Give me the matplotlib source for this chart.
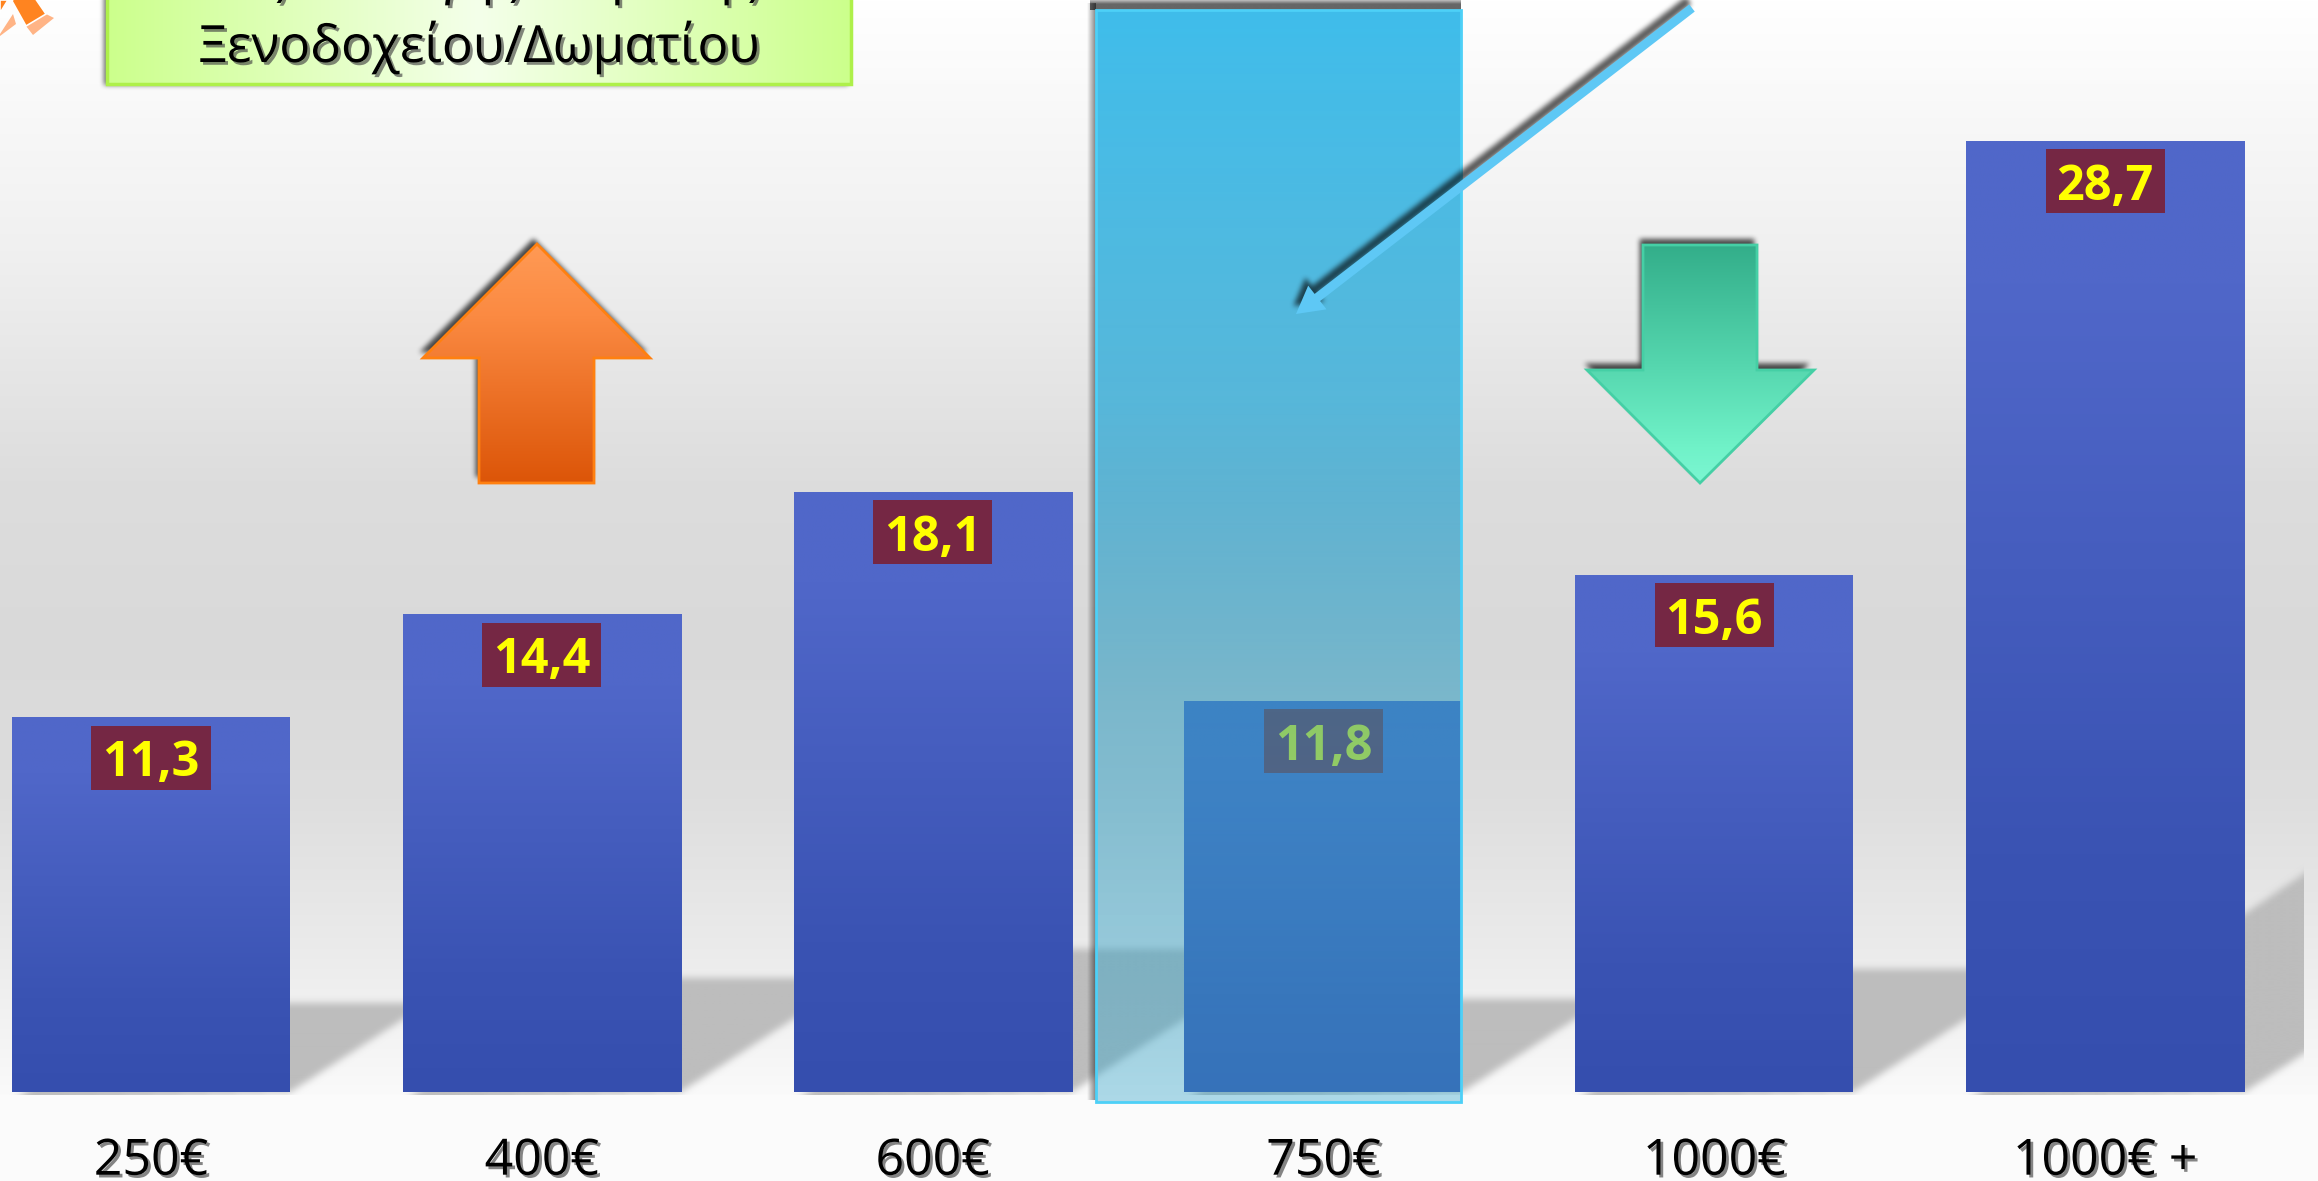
import numpy as np
import matplotlib
matplotlib.use("Agg")
import matplotlib.pyplot as plt
from matplotlib.colors import to_rgb
from matplotlib.patches import Polygon, Rectangle, FancyArrow
from matplotlib.path import Path
import matplotlib.patheffects as pe

# Data
categories = ["250€", "400€", "600€", "750€", "1000€", "1000€ +"]
values = [11.3, 14.4, 18.1, 11.8, 15.6, 28.7]
value_labels = ["11,3", "14,4", "18,1", "11,8", "15,6", "28,7"]
title_lines = ["Κόστος Επιλογής Διαμονής και", "Ξενοδοχείου/Δωματίου"]

W, H = 2318, 1181
BASE_PX = 1092
PX_PER_UNIT = 33.13
STEP_PX = 390.8
FIRST_PX = 151
FONT = "Open Sans"


def gradient(ax, extent, stops, horizontal=False, clip=None, zorder=1):
    # stops: (pos, colour) or (pos, colour, alpha), pos goes from top to bottom / left to right
    pos = [s[0] for s in stops]
    rgba = np.array([to_rgb(s[1]) + (s[2] if len(s) > 2 else 1.0,) for s in stops])
    t = np.linspace(0, 1, 512)
    img = np.stack([np.interp(t, pos, rgba[:, i]) for i in range(4)], axis=-1)
    img = img[np.newaxis, :, :] if horizontal else img[:, np.newaxis, :]
    im = ax.imshow(img, extent=extent, aspect="auto", origin="upper",
                   interpolation="bilinear", zorder=zorder)
    if clip is not None:
        im.set_clip_path(clip)
    return im


def blurred(ax, pts, cell=(1.0, 1.0), radius=3, colour="black", alpha=0.6, zorder=3, clip=None):
    # polygon mask smoothed with three box passes, cell is the size of one pixel in ax units
    pts = np.asarray(pts, dtype=float)
    pad = radius * 4
    xs = np.arange(pts[:, 0].min() - pad * cell[0], pts[:, 0].max() + pad * cell[0], cell[0])
    ys = np.arange(pts[:, 1].min() - pad * cell[1], pts[:, 1].max() + pad * cell[1], cell[1])
    X, Y = np.meshgrid(xs, ys)
    mask = Path(pts).contains_points(np.c_[X.ravel(), Y.ravel()]).reshape(X.shape).astype(float)
    kernel = np.ones(2 * radius + 1) / (2 * radius + 1)
    for _ in range(3):
        mask = np.apply_along_axis(lambda r: np.convolve(r, kernel, mode="same"), 0, mask)
        mask = np.apply_along_axis(lambda r: np.convolve(r, kernel, mode="same"), 1, mask)
    img = np.zeros(mask.shape + (4,))
    img[..., :3] = to_rgb(colour)
    img[..., 3] = mask * alpha
    im = ax.imshow(img, extent=(xs[0], xs[-1], ys[0], ys[-1]), origin="lower", aspect="auto",
                   interpolation="bilinear", zorder=zorder)
    if clip is not None:
        im.set_clip_path(clip)
    return im


def shifted(pts, dx=-2, dy=-7):
    return [(x + dx, y + dy) for x, y in pts]


def text_shadow(off=2.0, alpha=0.65):
    return [pe.withSimplePatchShadow(offset=(off, -off), shadow_rgbFace="#444444", alpha=alpha)]


fig = plt.figure(figsize=(W / 100, H / 100), dpi=100)

# background, in pixel coordinates
bg = fig.add_axes([0, 0, 1, 1], zorder=0)
bg.axis("off")
gradient(bg, (0, W, H, 0), [(0, "#ffffff"), (100 / H, "#f9f9f9"), (250 / H, "#f0f0f0"),
                            (480 / H, "#dddddd"), (650 / H, "#d9d9d9"), (800 / H, "#dedede"),
                            (950 / H, "#ebebeb"), (1050 / H, "#f5f5f5"), (1095 / H, "#fafafa"),
                            (1, "#ffffff")])
bg.set_xlim(0, W)
bg.set_ylim(H, 0)

# bars, in data coordinates
ax = fig.add_axes([0, 0, 1, 1], zorder=1)
ax.patch.set_alpha(0)
ax.axis("off")
xlim = (-FIRST_PX / STEP_PX, (W - FIRST_PX) / STEP_PX)
ylim = ((BASE_PX - H) / PX_PER_UNIT, BASE_PX / PX_PER_UNIT)
ax.set_xlim(xlim)
ax.set_ylim(ylim)
x = np.arange(len(categories))
bar_w = 278 / STEP_PX
cell = (1 / STEP_PX, 1 / PX_PER_UNIT)

# skewed floor shadows
clip_box = Rectangle((xlim[0], ylim[0]), 2303 / STEP_PX, ylim[1] - ylim[0], transform=ax.transData)
for xi, v in zip(x, values):
    up = 0.24 * v
    side = 0.369 * v * PX_PER_UNIT / STEP_PX
    pts = [(xi - bar_w / 2, -0.3), (xi - bar_w / 2 + side, up), (xi + bar_w / 2 + side, up), (xi + bar_w / 2, -0.0)]
    blurred(ax, pts, cell=cell, radius=3, colour="#bdbdbd", alpha=1.0, zorder=1, clip=clip_box)
ax.add_patch(Rectangle((xlim[0], ylim[0]), xlim[1] - xlim[0], -ylim[0] - 3 / PX_PER_UNIT,
                       facecolor="#fbfbfb", edgecolor="none", zorder=1.5))

bars = ax.bar(x, values, width=bar_w, color="none", zorder=2)
for rect, v in zip(bars, values):
    x0 = rect.get_x()
    gradient(ax, (x0, x0 + bar_w, 0, v),
             [(0, "#5068c9"), (0.15, "#5067c9"), (0.75, "#3a53b3"), (1, "#354eae")], zorder=2)

box_w = 119 / STEP_PX
box_h = 64 / PX_PER_UNIT
gap = 8 / PX_PER_UNIT
for xi, v, lab in zip(x, values, value_labels):
    ax.add_patch(Rectangle((xi - box_w / 2, v - gap - box_h), box_w, box_h,
                           facecolor="#752744", edgecolor="none", zorder=3))
    ax.text(xi, v - gap - box_h / 2, lab, ha="center", va="center_baseline", color="#ffff00",
            fontsize=35, fontweight="bold", family=FONT, zorder=4)

for xi, cat in zip(x, categories):
    ax.text(xi, -1.93, cat, ha="center", va="center_baseline", color="black", fontsize=36,
            family=FONT, zorder=4, path_effects=text_shadow())
ax.set_xlim(xlim)
ax.set_ylim(ylim)

# annotation shapes on top, in pixel coordinates
top = fig.add_axes([0, 0, 1, 1], zorder=2)
top.patch.set_alpha(0)
top.axis("off")
top.set_xlim(0, W)
top.set_ylim(H, 0)

# highlight column
gradient(top, (1087, 1096, 1100, 3), [(0, "#000000", 0.0), (1, "#000000", 0.5)], horizontal=True, zorder=1)
gradient(top, (1090, 1461, 10, 0), [(0, "#000000", 0.25), (0.4, "#000000", 0.6), (1, "#000000", 0.6)], zorder=1)
gradient(top, (1096, 1461, 1102, 10),
         [(0, "#3fbdeb", 1.0), (0.36, "#3aaed8", 0.83), (0.45, "#34a5cf", 0.74),
          (0.63, "#2c9bc0", 0.55), (1, "#3aa8cc", 0.41)], zorder=2)
top.add_patch(Rectangle((1096, 10), 365, 1092, facecolor="none", edgecolor="#4dd0f7", lw=2, zorder=2.5))

# long arrow
arrow_x, arrow_y, arrow_dx, arrow_dy = 1692, 8, -396, 306
long_arrow = FancyArrow(arrow_x, arrow_y, arrow_dx, arrow_dy, width=9, head_width=30, head_length=27,
                        length_includes_head=True, facecolor="#5ec8f5", edgecolor="none", zorder=3.2)
blurred(top, shifted(long_arrow.get_xy()[:-1], -3, -7), radius=2, alpha=0.65, zorder=3)
top.add_patch(long_arrow)

# up and down arrows
up_pts = [(537, 244), (650, 358), (594, 358), (594, 483), (479, 483), (479, 358), (423, 358)]
blurred(top, shifted(up_pts, -3, -6), radius=2, alpha=0.7, zorder=3)
up_poly = Polygon(up_pts, closed=True, facecolor="none", edgecolor="#ff8010", lw=2, zorder=4)
top.add_patch(up_poly)
gradient(top, (423, 650, 483, 244), [(0, "#ff9a55"), (0.3, "#fb8a42"), (1, "#dc5508")], clip=up_poly, zorder=3.5)

down_pts = [(1643, 245), (1757, 245), (1757, 370), (1814, 370), (1700, 483), (1587, 370), (1643, 370)]
blurred(top, shifted(down_pts, -3, -7), radius=2, alpha=0.7, zorder=3)
down_poly = Polygon(down_pts, closed=True, facecolor="none", edgecolor="#45cfa5", lw=2, zorder=4)
top.add_patch(down_poly)
gradient(top, (1587, 1814, 483, 245), [(0, "#33ae8a"), (0.5, "#55d6ae"), (0.85, "#70f2c8"), (1, "#7cf6d2")],
         clip=down_poly, zorder=3.5)

# title box, runs off the top of the picture
box_pts = [(107, -10), (851, -10), (851, 84), (107, 84)]
blurred(top, shifted(box_pts, -3, 1), radius=2, alpha=0.6, zorder=3)
box_poly = Polygon(box_pts, closed=True, facecolor="none", edgecolor="#aef04a", lw=2.5, zorder=4)
top.add_patch(box_poly)
gradient(top, (107, 851, 84, -10), [(0, "#ccff8c"), (0.5, "#f4ffea"), (1, "#ccff8c")], horizontal=True,
         clip=box_poly, zorder=3.5)
top.text(479, -7, title_lines[0], ha="center", va="baseline", fontsize=37, color="black", family=FONT,
         zorder=5, path_effects=text_shadow())
top.text(479, 62, title_lines[1], ha="center", va="baseline", fontsize=37, color="black", family=FONT,
         zorder=5, path_effects=text_shadow())

# ribbon corner
for pts in ([(46, 14), (54, 18), (33, 35), (26, 26)], [(0, 34), (13, 14), (16, 24), (0, 36)]):
    top.add_patch(Polygon(pts, closed=True, facecolor="#ffb486", edgecolor="none", zorder=3))
for pts in ([(35, -2), (46, 14), (26, 26), (12, 1), (14, -2)], [(0, 0), (8, 0), (0, 13)]):
    top.add_patch(Polygon(pts, closed=True, facecolor="#ff8420", edgecolor="white", lw=1.2, zorder=3.2))

top.set_xlim(0, W)
top.set_ylim(H, 0)

fig.savefig("out.png", dpi=100)
